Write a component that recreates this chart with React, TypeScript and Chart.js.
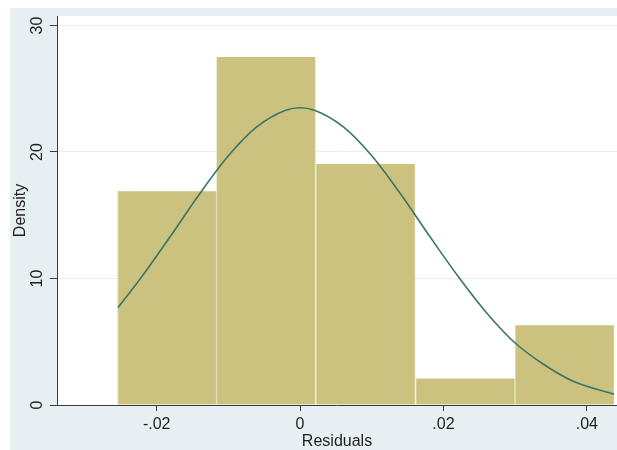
import React, { useEffect, useRef } from "react";
import { Chart, registerables } from "chart.js";

Chart.register(...registerables);

// Histogram bins (edges) and bar densities
const binEdges = [-0.0254, -0.0117, 0.0022, 0.0161, 0.03, 0.0438];
const densities = [16.9, 27.5, 19.05, 2.1, 6.3];

// Normal density overlay
const curveX = [-0.0254, -0.022, -0.018, -0.014, -0.01, -0.006, -0.002, 0, 0.002, 0.006, 0.01, 0.014, 0.018, 0.022, 0.026, 0.03, 0.034, 0.038, 0.0438];
const curveY = [7.7, 10.2, 13.4, 16.7, 19.7, 22.0, 23.3, 23.5, 23.3, 22.0, 19.7, 16.7, 13.4, 10.2, 7.3, 4.9, 3.2, 1.9, 0.85];

// Axis ticks
const xTicks = [-0.02, 0, 0.02, 0.04];
const xTickLabels = ["-.02", "0", ".02", ".04"];
const yTicks = [0, 10, 20, 30];
const yTickLabels = ["0", "10", "20", "30"];

const FONT = "'Liberation Sans', Arial, Helvetica, sans-serif";
const TEXT = "#1e1e1e";
const AXIS = "#3a3a3a";

const bgPlugin = {
  id: "stataBg",
  beforeDraw(chart: any) {
    const { ctx, width, height, chartArea } = chart;
    ctx.save();
    ctx.fillStyle = "#ffffff";
    ctx.fillRect(0, 0, width, height);
    ctx.fillStyle = "#e8eff2";
    ctx.fillRect(10, 8, width - 10, height - 8);
    ctx.fillStyle = "#ffffff";
    ctx.fillRect(chartArea.left, chartArea.top, chartArea.right - chartArea.left, chartArea.bottom - chartArea.top);
    ctx.restore();
  },
};

export default function App() {
  const ref = useRef<HTMLCanvasElement | null>(null);

  useEffect(() => {
    document.body.style.margin = "0";
    document.body.style.overflow = "hidden";
    const canvas = ref.current;
    if (!canvas) return;

    const chart = new Chart(canvas, {
      type: "bar",
      data: {
        datasets: [
          {
            type: "line",
            data: curveX.map((x, i) => ({ x, y: curveY[i] })),
            borderColor: "#3c7565",
            borderWidth: 1.6,
            pointRadius: 0,
            fill: false,
            cubicInterpolationMode: "monotone",
            order: 0,
          } as any,
          {
            type: "bar",
            data: densities.map((d, i) => ({ x: (binEdges[i] + binEdges[i + 1]) / 2, y: d })),
            backgroundColor: "#cbc27f",
            borderColor: "#e2ddb3",
            borderWidth: { left: 1, right: 1, top: 0, bottom: 0 },
            borderSkipped: false,
            barPercentage: 1,
            categoryPercentage: 1,
            order: 1,
          } as any,
        ],
      },
      options: {
        responsive: false,
        animation: false,
        devicePixelRatio: 1,
        layout: { padding: { top: 16, right: 0, bottom: 0, left: 0 } },
        plugins: {
          legend: { display: false },
          tooltip: { enabled: false },
        },
        scales: {
          x: {
            type: "linear",
            offset: false,
            min: -0.0339,
            max: 0.0442,
            afterBuildTicks: (s: any) => {
              s.ticks = xTicks.map((v) => ({ value: v }));
            },
            afterFit: (s: any) => {
              s.height = 45;
            },
            ticks: {
              autoSkip: false,
              maxRotation: 0,
              minRotation: 0,
              padding: 4,
              color: TEXT,
              font: { family: FONT, size: 16 },
              callback: (v: any) => xTickLabels[xTicks.indexOf(v)] ?? "",
            },
            grid: {
              offset: false,
              color: "rgba(0,0,0,0)",
              drawOnChartArea: false,
              tickColor: AXIS,
              tickLength: 6,
            },
            border: { color: AXIS, width: 1 },
            title: {
              display: true,
              text: "Residuals",
              color: TEXT,
              font: { family: FONT, size: 16, lineHeight: 1 },
              padding: { top: 0, bottom: 0 },
            },
          },
          y: {
            type: "linear",
            min: 0,
            max: 30.75,
            afterBuildTicks: (s: any) => {
              s.ticks = yTicks.map((v) => ({ value: v }));
            },
            afterFit: (s: any) => {
              s.width = 57;
            },
            ticks: {
              autoSkip: false,
              minRotation: 90,
              maxRotation: 90,
              crossAlign: "center",
              padding: 4,
              color: TEXT,
              font: { family: FONT, size: 16 },
              callback: (v: any) => yTickLabels[yTicks.indexOf(v)] ?? "",
            },
            grid: {
              color: "#ececec",
              tickColor: AXIS,
              tickLength: 7,
            },
            border: { color: AXIS, width: 1 },
            title: {
              display: true,
              text: "Density",
              color: TEXT,
              font: { family: FONT, size: 16 },
              padding: { top: 11, bottom: 0 },
            },
          },
        },
      },
      plugins: [bgPlugin],
    } as any);

    return () => chart.destroy();
  }, []);

  return <canvas ref={ref} width={617} height={450} style={{ display: "block", width: 617, height: 450 }} />;
}
